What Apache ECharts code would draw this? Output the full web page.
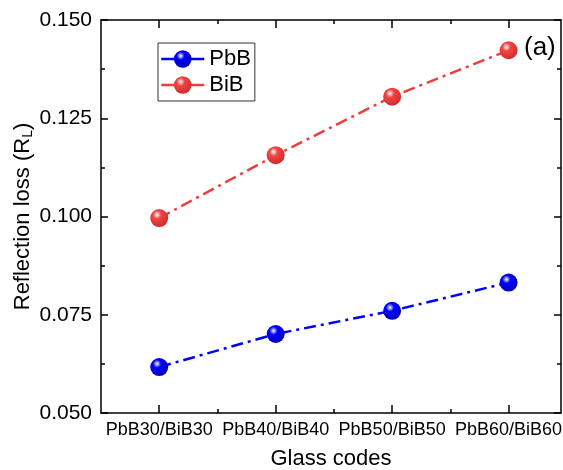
<!DOCTYPE html>
<html>

<head>
	<meta charset="utf-8" />
	<title>Reflection loss</title>
	<script src="https://cdn.jsdelivr.net/npm/echarts@6/dist/echarts.min.js"></script>
	<style>
		* {
			margin: 0;
			padding: 0;
		}

		html,
		body {
			height: 100%;
			background: #fff;
		}

		#main {
			width: 563px;
			height: 470px;
		}
	</style>
</head>

<body>
	<div id="main"></div>
	<script>
		// data
		var categories = ['PbB30/BiB30', 'PbB40/BiB40', 'PbB50/BiB50', 'PbB60/BiB60'];
		var pbbValues = [0.0617, 0.0701, 0.0760, 0.0832];
		var bibValues = [0.0996, 0.1156, 0.1305, 0.1423];
		var yTicks = [0.050, 0.075, 0.100, 0.125, 0.150];

		var font = 'Liberation Sans, Arial, sans-serif';
		var axisColor = '#000';

		function pairs(values) {
			return values.map(function (v, i) { return [i, v]; });
		}

		function ball(base, edge) {
			return new echarts.graphic.RadialGradient(0.38, 0.32, 0.75, [
				{ offset: 0, color: '#ffffff' },
				{ offset: 0.3, color: base },
				{ offset: 1, color: edge }
			]);
		}

		var majorX = categories.map(function (c, i) { return i; });
		var minorX = [0.5, 1.5, 2.5];

		// x axis factory: same range, different tick sets
		function xAxisOf(pos, ticks, len, withLine, withLabel) {
			return {
				type: 'value',
				position: pos,
				min: -0.5,
				max: 3.45,
				interval: 0.5,
				splitLine: { show: false },
				axisLine: { show: withLine, onZero: false, lineStyle: { color: axisColor, width: 1.5 } },
				axisTick: { show: true, inside: true, length: len, customValues: ticks, lineStyle: { color: axisColor, width: 1.5 } },
				axisLabel: {
					show: withLabel,
					customValues: majorX,
					margin: 8,
					color: '#000',
					fontFamily: font,
					fontSize: 18,
					formatter: function (v) { return categories[Math.round(v)]; }
				}
			};
		}

		function yAxisOf(pos, withLabel) {
			return {
				type: 'value',
				position: pos,
				min: yTicks[0],
				max: yTicks[yTicks.length - 1],
				interval: 0.025,
				splitLine: { show: false },
				axisLine: { show: true, onZero: false, lineStyle: { color: axisColor, width: 1.5 } },
				axisTick: { show: true, inside: true, length: 7, lineStyle: { color: axisColor, width: 1.5 } },
				minorTick: { show: true, splitNumber: 2, length: 4, lineStyle: { color: axisColor, width: 1.5 } },
				axisLabel: {
					show: withLabel,
					margin: 9,
					color: '#000',
					fontFamily: font,
					fontSize: 21,
					formatter: function (v) { return v.toFixed(3); }
				}
			};
		}

		var bottom = xAxisOf('bottom', majorX, 8, true, true);
		bottom.name = 'Glass codes';
		bottom.nameLocation = 'middle';
		bottom.nameGap = 35;
		bottom.nameMoveOverlap = false;
		bottom.nameTextStyle = { color: '#000', fontFamily: font, fontSize: 22 };

		var left = yAxisOf('left', true);
		left.name = 'Reflection loss (R{sub|L})';
		left.nameLocation = 'middle';
		left.nameGap = 66;
		left.nameMoveOverlap = false;
		left.nameTextStyle = {
			color: '#000', fontFamily: font, fontSize: 22,
			rich: { sub: { fontFamily: font, fontSize: 14, verticalAlign: 'bottom', padding: [10, 0, 0, 0] } }
		};

		var chart = echarts.init(document.getElementById('main'), null, { renderer: 'canvas' });

		var option = {
			animation: false,
			backgroundColor: '#fff',
			grid: {
				left: 101,
				right: 2,
				top: 20,
				bottom: 57,
				containLabel: false,
				outerBoundsMode: 'none'
			},
			legend: {
				left: 158,
				top: 43,
				orient: 'vertical',
				itemWidth: 43,
				itemHeight: 22,
				itemGap: 4,
				padding: [5, 4, 5, 2],
				borderColor: '#333',
				borderWidth: 1,
				borderRadius: 0,
				lineStyle: { type: 'solid', width: 2.5 },
				textStyle: { color: '#000', fontFamily: font, fontSize: 22, lineHeight: 22 },
				data: ['PbB', 'BiB']
			},
			xAxis: [
				bottom,
				xAxisOf('bottom', minorX, 4, false, false),
				xAxisOf('top', majorX, 8, true, false),
				xAxisOf('top', minorX, 4, false, false)
			],
			yAxis: [left, yAxisOf('right', false)],
			graphic: [{
				type: 'text',
				left: 524,
				top: 35,
				style: { text: '(a)', fill: '#000', font: '26px ' + font }
			}],
			series: [
				{
					name: 'PbB',
					type: 'line',
					data: pairs(pbbValues),
					symbol: 'circle',
					symbolSize: 18,
					lineStyle: { color: '#0000ff', width: 2.5, type: [12, 5, 3, 5] },
					itemStyle: { color: ball('#0000ff', '#0000b0') }
				},
				{
					name: 'BiB',
					type: 'line',
					data: pairs(bibValues),
					symbol: 'circle',
					symbolSize: 18,
					lineStyle: { color: '#f03c3c', width: 2.5, type: [12, 5, 3, 5] },
					itemStyle: { color: ball('#f24444', '#c82a2a') }
				}
			]
		};

		chart.setOption(option);
	</script>
</body>

</html>
